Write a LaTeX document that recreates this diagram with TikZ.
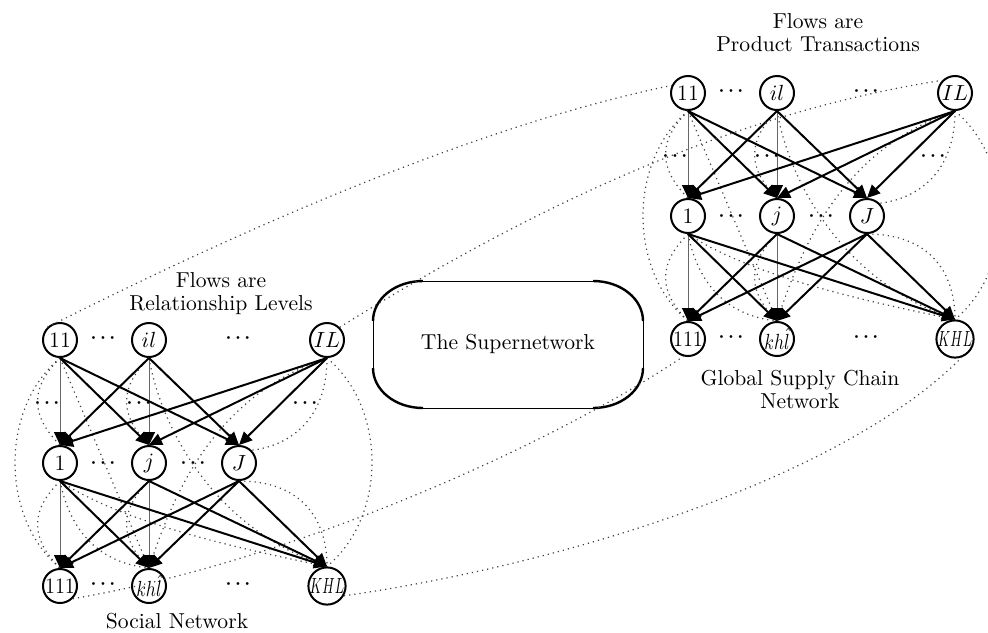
\documentclass[tikz,border=0pt]{standalone}
\usetikzlibrary{arrows.meta}
\begin{document}
\begin{tikzpicture}[x=0.5pt, y=-0.5pt,
    nodeStyle/.style={circle, draw, line width=1pt, fill=white, minimum size=17pt, inner sep=0pt, font=\fontsize{11}{12}\selectfont},
    flowArrow/.style={-{Triangle[length=6.5pt,width=6pt]}, line width=1pt},
    thinArrow/.style={-{Triangle[length=6.5pt,width=6pt,color=black]}, line width=0.5pt, draw=black!60},
    linkDot/.style={dotted, line width=0.6pt, black!75},
    dotsStyle/.style={inner sep=0pt, font=\fontsize{9}{10}\selectfont\boldmath},
    labelStyle/.style={align=center, inner sep=0.5pt, font=\fontsize{10.8}{11.5}\selectfont},
    pics/network/.style={code={
        % three layers of nodes
        \node[nodeStyle] (t1) at (0,0) {11};
        \node[nodeStyle] (t2) at (89,0) {$il$};
        \node[nodeStyle] (t3) at (267,0) {$IL$};
        \node[nodeStyle] (m1) at (0,123) {1};
        \node[nodeStyle] (m2) at (89,123) {$j$};
        \node[nodeStyle] (m3) at (179,123) {$J$};
        \node[nodeStyle] (b1) at (0,246) {\scalebox{0.92}[1]{111}};
        \node[nodeStyle] (b2) at (89,246) {\scalebox{0.8}[1]{$kh\hat{l}$}};
        \node[nodeStyle] (b3) at (267,246) {\scalebox{0.62}[1]{$KHL$}};
        \node[dotsStyle] (d1) at (43,-2) {$\cdots$};
        \node[dotsStyle] (d2) at (178,-2) {$\cdots$};
        \node[dotsStyle] (d3) at (43,123) {$\cdots$};
        \node[dotsStyle] (d4) at (133,123) {$\cdots$};
        \node[dotsStyle] (d5) at (43,244) {$\cdots$};
        \node[dotsStyle] (d6) at (178,244) {$\cdots$};
        \node[dotsStyle] (d7) at (-13,63) {$\cdots$};
        \node[dotsStyle] (d8) at (79,63) {$\cdots$};
        \node[dotsStyle] (d9) at (245,63) {$\cdots$};
        % dotted links
        \draw[linkDot] (t1.south) .. controls +(-30,30) and +(-30,-30) .. (m1.north);
        \draw[linkDot] (t1.south) .. controls +(-60,50) and +(-60,-50) .. (b1.north);
        \draw[linkDot] (t1.south) -- (b2.north);
        \draw[linkDot] (t2.south) .. controls +(-30,30) and +(-30,-30) .. (m2.north);
        \draw[linkDot] (t2.south) .. controls +(10,60) and +(-120,-40) .. (b3.north);
        \draw[linkDot] (t3.south) .. controls +(0,60) and +(40,-5) .. (m3.north east);
        \draw[linkDot] (t3.south) .. controls +(60,50) and +(60,-50) .. (b3.north);
        \draw[linkDot] (t3.south) .. controls +(-120,40) and +(20,-60) .. (b2.north);
        \draw[linkDot] (m1.south) .. controls +(-30,30) and +(-30,-30) .. (b1.north);
        \draw[linkDot] (m1.south) .. controls +(10,50) and +(-50,-5) .. (b2.north);
        \draw[linkDot] (m1.south) .. controls +(60,40) and +(-100,-20) .. (b3.north);
        \draw[linkDot] (m2.south) .. controls +(-30,30) and +(-30,-30) .. (b2.north);
        \draw[linkDot] (m3.south) .. controls +(60,0) and +(0,-50) .. (b3.north);
        % arrows
        \draw[thinArrow] (t1.south) -- (m1.north);
        \draw[thinArrow] (t2.south) -- (m2.north);
        \draw[thinArrow] (m1.south) -- (b1.north);
        \draw[thinArrow] (m2.south) -- (b2.north);
        \foreach \a/\b in {t1/m2, t1/m3, t2/m1, t2/m3, t3/m1, t3/m2, t3/m3,
                           m1/b2, m1/b3, m2/b1, m2/b3, m3/b1, m3/b2, m3/b3}
            \draw[flowArrow] (\a.south) -- (\b.north);
    }}]
    \useasboundingbox (0,0) rectangle (988,632);

    \pic (s-) at (60,340) {network};
    \pic (g-) at (688,93) {network};

    \node[labelStyle] (socTitle) at (221,294) {Flows are\\Relationship Levels};
    \node[labelStyle] (socName) at (177,621) {Social Network};
    \node[labelStyle] (gscTitle) at (818,33) {Flows are\\Product Transactions};
    \node[labelStyle] (gscName) at (800,389) {Global Supply Chain\\Network};

    % the supernetwork box
    \node[labelStyle] (super) at (508,344) {The Supernetwork};
    \draw[line width=0.5pt] (423,281) -- (593,281);
    \draw[line width=0.5pt] (423,408) -- (593,408);
    \draw[line width=0.5pt] (373,321) -- (373,368);
    \draw[line width=0.5pt] (643,321) -- (643,368);
    \draw[line width=1.2pt] (373,321) .. controls (373,299) and (395,281) .. (423,281);
    \draw[line width=1.2pt] (593,281) .. controls (621,281) and (643,299) .. (643,321);
    \draw[line width=1.2pt] (643,368) .. controls (643,390) and (621,408) .. (593,408);
    \draw[line width=1.2pt] (423,408) .. controls (395,408) and (373,390) .. (373,368);

    % links between the two networks
    \draw[linkDot] (s-t1.north west) .. controls (250,225) and (480,125) .. (g-t1.155);
    \draw[linkDot] (s-t3.north east) .. controls (520,215) and (720,115) .. (g-t3.north west);
    \draw[linkDot] (s-b1.south east) .. controls (300,560) and (560,440) .. (g-b1.255);
    \draw[linkDot] (s-b3.330) .. controls (560,565) and (840,480) .. (g-b3.290);
\end{tikzpicture}
\end{document}
